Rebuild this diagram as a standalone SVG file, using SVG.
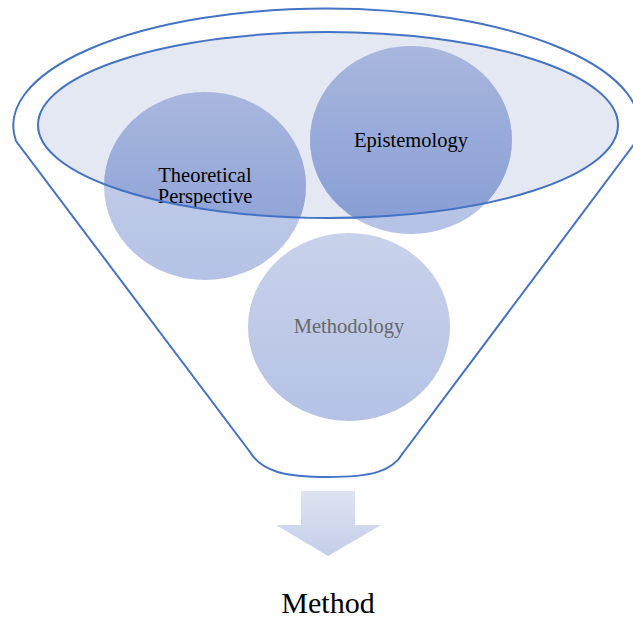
<svg xmlns="http://www.w3.org/2000/svg" width="633" height="620" viewBox="0 0 633 620">
<style>
.edge{fill:none;stroke:#4472c4;stroke-width:2}
.lbl{font-family:"Liberation Serif","Times New Roman",serif;font-size:20.5px;text-anchor:middle;fill:#000}
</style>
<defs>
<linearGradient id="gLight" x1="0" y1="0" x2="0" y2="1">
<stop offset="0" stop-color="#c9d2eb"/><stop offset="1" stop-color="#b5c2e5"/>
</linearGradient>
<linearGradient id="gDark" x1="0" y1="0" x2="0" y2="1">
<stop offset="0" stop-color="#a9b7de"/><stop offset="1" stop-color="#859cd4"/>
</linearGradient>
<linearGradient id="gArrow" x1="0" y1="0" x2="0" y2="1">
<stop offset="0" stop-color="#dde3f1"/><stop offset="1" stop-color="#c4cee9"/>
</linearGradient>
<clipPath id="inner"><ellipse cx="328" cy="125" rx="290" ry="93"/></clipPath>
</defs>
<g id="funnel">
<path class="edge" d="M16,141 A313,117 0 1 1 636.5,141 L403,453 C392,472 370,477 328,477 C286,477 262,472 250,452 Z" style="fill:#fff"/>
<ellipse cx="328" cy="125" rx="290" ry="93" fill="#e4e8f3"/>
</g>
<g id="methodology">
<ellipse cx="349" cy="327" rx="101" ry="94" fill="url(#gLight)"/>
<text class="lbl" x="349" y="333" style="fill:#686868">Methodology</text>
</g>
<g id="theoretical">
<ellipse cx="205" cy="186" rx="101" ry="94" fill="url(#gLight)"/>
<ellipse cx="205" cy="186" rx="101" ry="94" fill="url(#gDark)" clip-path="url(#inner)"/>
<text class="lbl" x="205" y="182">Theoretical<tspan x="205" dy="21">Perspective</tspan></text>
</g>
<g id="epistemology">
<ellipse cx="411" cy="140" rx="101" ry="94" fill="url(#gLight)"/>
<ellipse cx="411" cy="140" rx="101" ry="94" fill="url(#gDark)" clip-path="url(#inner)"/>
<text class="lbl" x="411" y="147">Epistemology</text>
</g>
<g id="connectors">
<ellipse class="edge" cx="328" cy="125" rx="290" ry="93"/>
</g>
<g id="arrow">
<polygon points="301,491 355,491 355,525 381,525 328,556 276,525 301,525" fill="url(#gArrow)"/>
</g>
<g id="method">
<text x="328" y="613" style="font-family:'Liberation Serif','Times New Roman',serif;font-size:30px;text-anchor:middle;fill:#000">Method</text>
</g>
</svg>
